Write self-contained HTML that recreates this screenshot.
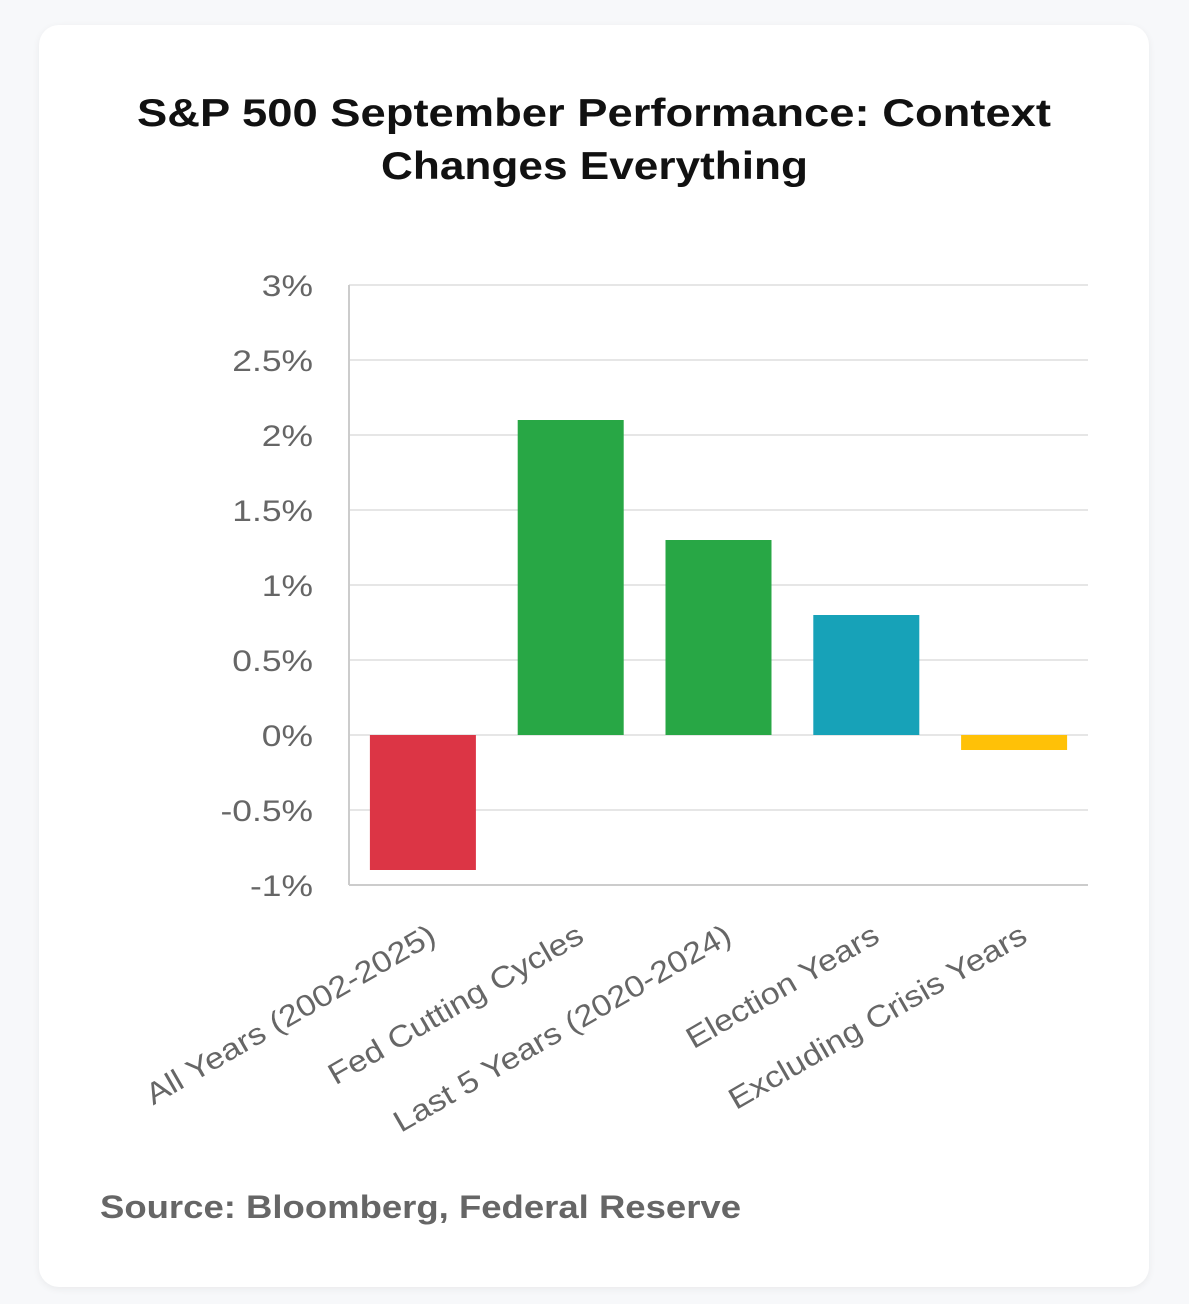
<!DOCTYPE html>
<html><head><meta charset="utf-8"><style>
body{margin:0;width:1189px;height:1304px;background:#f7f8fa;font-family:"Liberation Sans",sans-serif;}
.card{position:absolute;left:39px;top:25px;width:1110px;height:1262px;background:#fff;border-radius:20px;box-shadow:0 2px 8px rgba(0,0,0,0.06);}
</style></head><body>
<div class="card"></div>
<svg id="chart" width="1189" height="1304" style="position:absolute;left:0;top:0">
<text y="126" font-size="39" font-weight="bold" fill="#111"><tspan x="137" textLength="914" lengthAdjust="spacingAndGlyphs">S&amp;P 500 September Performance: Context</tspan><tspan x="381" dy="53" textLength="427" lengthAdjust="spacingAndGlyphs">Changes Everything</tspan></text>
<text x="100" y="1218" font-size="32" font-weight="bold" fill="#666" textLength="641" lengthAdjust="spacingAndGlyphs">Source: Bloomberg, Federal Reserve</text>
</svg>
<script>
const categories=["All Years (2002-2025)","Fed Cutting Cycles","Last 5 Years (2020-2024)","Election Years","Excluding Crisis Years"];
const values=[-0.9,2.1,1.3,0.8,-0.1];
const colors=["#dc3545","#28a745","#28a745","#17a2b8","#ffc107"];
const ticks=[-1,-0.5,0,0.5,1,1.5,2,2.5,3];
const tickLabels=["-1%","-0.5%","0%","0.5%","1%","1.5%","2%","2.5%","3%"];
const svg=document.getElementById('chart');const NS='http://www.w3.org/2000/svg';
const x0=349,x1=1088;const y=v=>735-v*150;const bw=(x1-x0)/categories.length;
function mk(t,a){const e=document.createElementNS(NS,t);for(const k in a)e.setAttribute(k,a[k]);svg.appendChild(e);return e;}
ticks.forEach((t,i)=>{
 const g=mk('line',{x1:x0,x2:x1,y1:y(t),y2:y(t),stroke:'#e6e6e6','stroke-width':2});
 
 
 const l=mk('text',{x:313,y:y(t)+11,'text-anchor':'end','font-size':30,fill:'#666'});l.textContent=tickLabels[i];
 
 
 l.setAttribute('textLength',(l.getComputedTextLength()*1.18).toFixed(1));
 l.setAttribute('lengthAdjust','spacingAndGlyphs');
});
const ax=mk('line',{x1:x0,x2:x0,y1:y(3),y2:y(-1),stroke:'#ccc','stroke-width':2});


const bx=mk('line',{x1:x0,x2:x1,y1:y(-1),y2:y(-1),stroke:'#ccc','stroke-width':2});


categories.forEach((c,i)=>{
 const cx=x0+bw*(i+0.5),v=values[i];
 const r=mk('rect',{x:cx-53,width:106,y:Math.min(y(v),y(0)),height:Math.abs(y(v)-y(0)),fill:colors[i]});
 
 
 const ax2=cx+15,ay=941;
 const t=mk('text',{x:ax2,y:ay,'text-anchor':'end','font-size':30,fill:'#666',transform:`rotate(-30 ${ax2} ${ay})`});t.textContent=c;
 
 
 t.setAttribute('textLength',(t.getComputedTextLength()*1.14).toFixed(1));
 t.setAttribute('lengthAdjust','spacingAndGlyphs');
});
</script>
</body></html>
